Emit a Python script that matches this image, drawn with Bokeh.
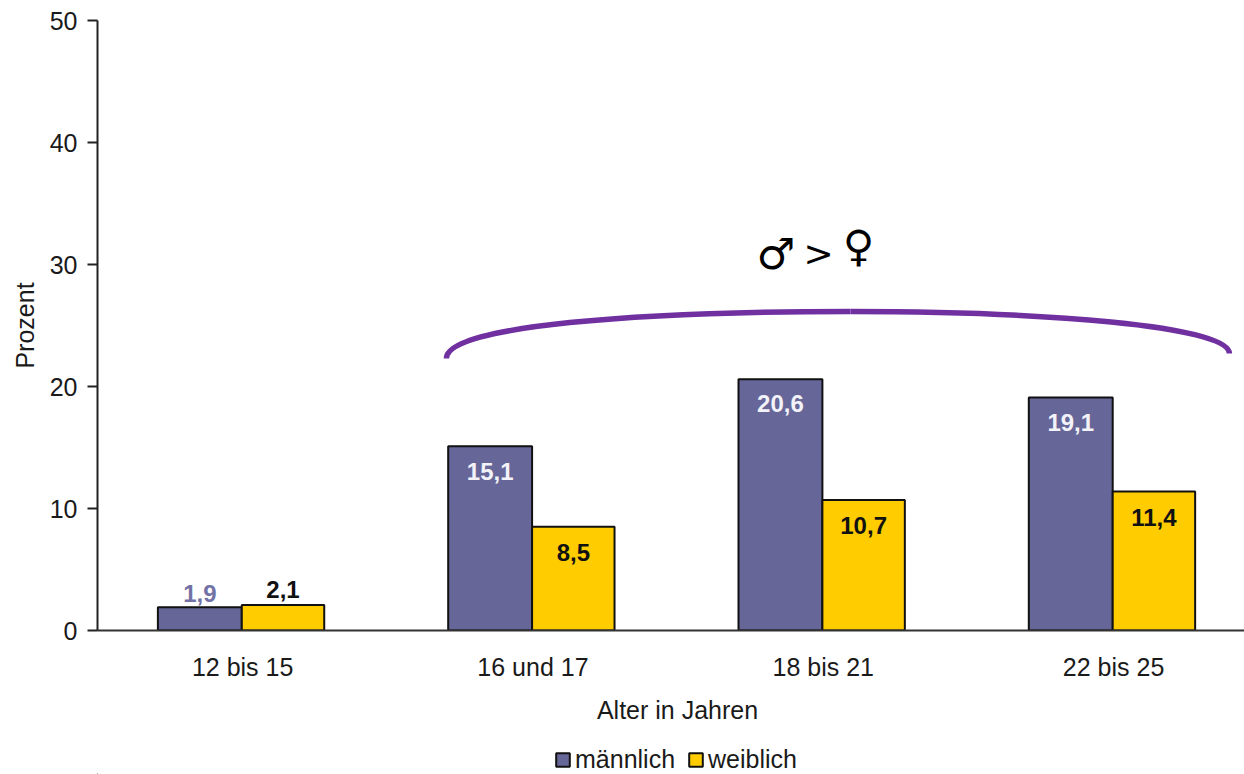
from bokeh.plotting import figure
from bokeh.layouts import column
from bokeh.models import Range1d, FixedTicker, Legend, LegendItem, ColumnDataSource, Label
from bokeh.core.properties import value
from bokeh.embed import file_html
from bokeh.resources import INLINE

categories = ["12 bis 15", "16 und 17", "18 bis 21", "22 bis 25"]
maennlich = [1.9, 15.1, 20.6, 19.1]
weiblich = [2.1, 8.5, 10.7, 11.4]
y_ticks = [0, 10, 20, 30, 40, 50]
# bracket: two cubic curves, in data units
brace_x0 = [1.202, 2.594]
brace_y0 = [22.30, 26.15]
brace_x1 = [2.594, 3.899]
brace_y1 = [26.15, 22.70]
brace_cx0 = [1.202, 3.248]
brace_cy0 = [25.0, 26.15]
brace_cx1 = [1.870, 3.899]
brace_cy1 = [26.15, 25.0]

FONT = "Liberation Sans"
SIZE = "25px"
DARK = "#1a1a1a"
PURPLE = "#666699"
YELLOW = "#FFCC00"

centers = [i + 0.5 for i in range(len(categories))]
bw_m = 0.289
bw_w = 0.284
edge = -0.003
x_m = [c + edge - bw_m / 2 for c in centers]
x_w = [c + edge + bw_w / 2 for c in centers]

p = figure(width=1244, height=690, output_backend="svg", toolbar_location=None,
           x_range=Range1d(0, 3.951), y_range=Range1d(0, 50),
           min_border_left=97, min_border_right=0, min_border_top=20, min_border_bottom=60)
p.outline_line_color = None
p.grid.visible = False

p.vbar(x=x_m, top=maennlich, width=bw_m, fill_color=PURPLE, line_color="#111111", line_width=2)
p.vbar(x=x_w, top=weiblich, width=bw_w, fill_color=YELLOW, line_color="#111111", line_width=2)

def labels(xs, vals, colors, offs):
    src = ColumnDataSource(dict(x=xs, y=vals, t=[f"{v:.1f}".replace(".", ",") for v in vals],
                                c=colors, o=offs))
    p.text(x="x", y="y", text="t", text_color="c", y_offset="o", source=src,
           text_font=value(FONT), text_font_style="bold", text_font_size="24px",
           text_align="center", text_baseline="middle")

labels(x_m, maennlich, ["#7272A6", "#F2F2F8", "#F2F2F8", "#F2F2F8"], [-14, 25, 24, 25])
labels(x_w, weiblich, ["#111111"] * 4, [-15, 26, 26, 26])

p.bezier(x0=brace_x0, y0=brace_y0, x1=brace_x1, y1=brace_y1, cx0=brace_cx0, cy0=brace_cy0,
         cx1=brace_cx1, cy1=brace_cy1, line_color="#7030A0", line_width=5.5)

p.text(x=[2.336, 2.621], y=[30.9, 31.5], text=["♂", "♀"], text_font=value("DejaVu Sans"),
       text_font_size="43px", text_color="#000000", text_align="center", text_baseline="middle")
p.text(x=[2.484], y=[30.9], text=[">"], text_font=value("DejaVu Sans"),
       text_font_size="36px", text_color="#000000", text_align="center", text_baseline="middle")

xa = p.xaxis[0]
xa.ticker = FixedTicker(ticks=centers)
xa.major_label_overrides = {c: n for c, n in zip(centers, categories)}
xa.major_tick_line_color = None
xa.minor_tick_line_color = None
xa.axis_line_color = "#333333"
xa.axis_line_width = 2
xa.major_label_text_font = FONT
xa.major_label_text_font_size = SIZE
xa.major_label_text_color = DARK
xa.major_label_standoff = 16

ya = p.yaxis[0]
ya.ticker = FixedTicker(ticks=y_ticks)
ya.minor_tick_line_color = None
ya.major_tick_in = 0
ya.major_tick_out = 10
ya.major_tick_line_color = "#222222"
ya.major_tick_line_width = 2
ya.axis_line_color = "#222222"
ya.axis_line_width = 2
ya.major_label_text_font = FONT
ya.major_label_text_font_size = SIZE
ya.major_label_text_color = DARK
ya.major_label_standoff = 10
ya.axis_label = "Prozent"
ya.axis_label_text_font = FONT
ya.axis_label_text_font_style = "normal"
ya.axis_label_text_font_size = SIZE
ya.axis_label_text_color = DARK
ya.axis_label_standoff = 8

# strip under the chart: x axis title and legend
q = figure(width=1244, height=84, output_backend="svg", toolbar_location=None,
           x_range=Range1d(0, 1), y_range=Range1d(0, 1),
           x_axis_location=None, y_axis_location=None,
           min_border_left=0, min_border_right=0, min_border_top=0, min_border_bottom=0)
q.outline_line_color = None
q.grid.visible = False
q.add_layout(Label(x=580, y=65, x_units="screen", y_units="screen", text="Alter in Jahren",
                   text_font=FONT, text_font_size=SIZE, text_color=DARK,
                   text_align="center", text_baseline="middle"))
lm = q.vbar(x=[-10], top=[-5], bottom=[-6], width=0.1, fill_color=PURPLE, line_color="#111111", line_width=2)
lw = q.vbar(x=[-10], top=[-5], bottom=[-6], width=0.1, fill_color=YELLOW, line_color="#111111", line_width=2)
legend = Legend(items=[LegendItem(label="männlich", renderers=[lm]),
                       LegendItem(label="weiblich", renderers=[lw])],
                orientation="horizontal", location=(457, 0),
                border_line_color=None, background_fill_alpha=0,
                label_text_font=FONT, label_text_font_size=SIZE, label_text_color=DARK,
                glyph_width=17, glyph_height=17, spacing=12, label_standoff=4,
                padding=0, margin=0)
q.add_layout(legend)

layout = column(p, q, spacing=0)
open("out.html", "w").write(file_html(layout, INLINE))
